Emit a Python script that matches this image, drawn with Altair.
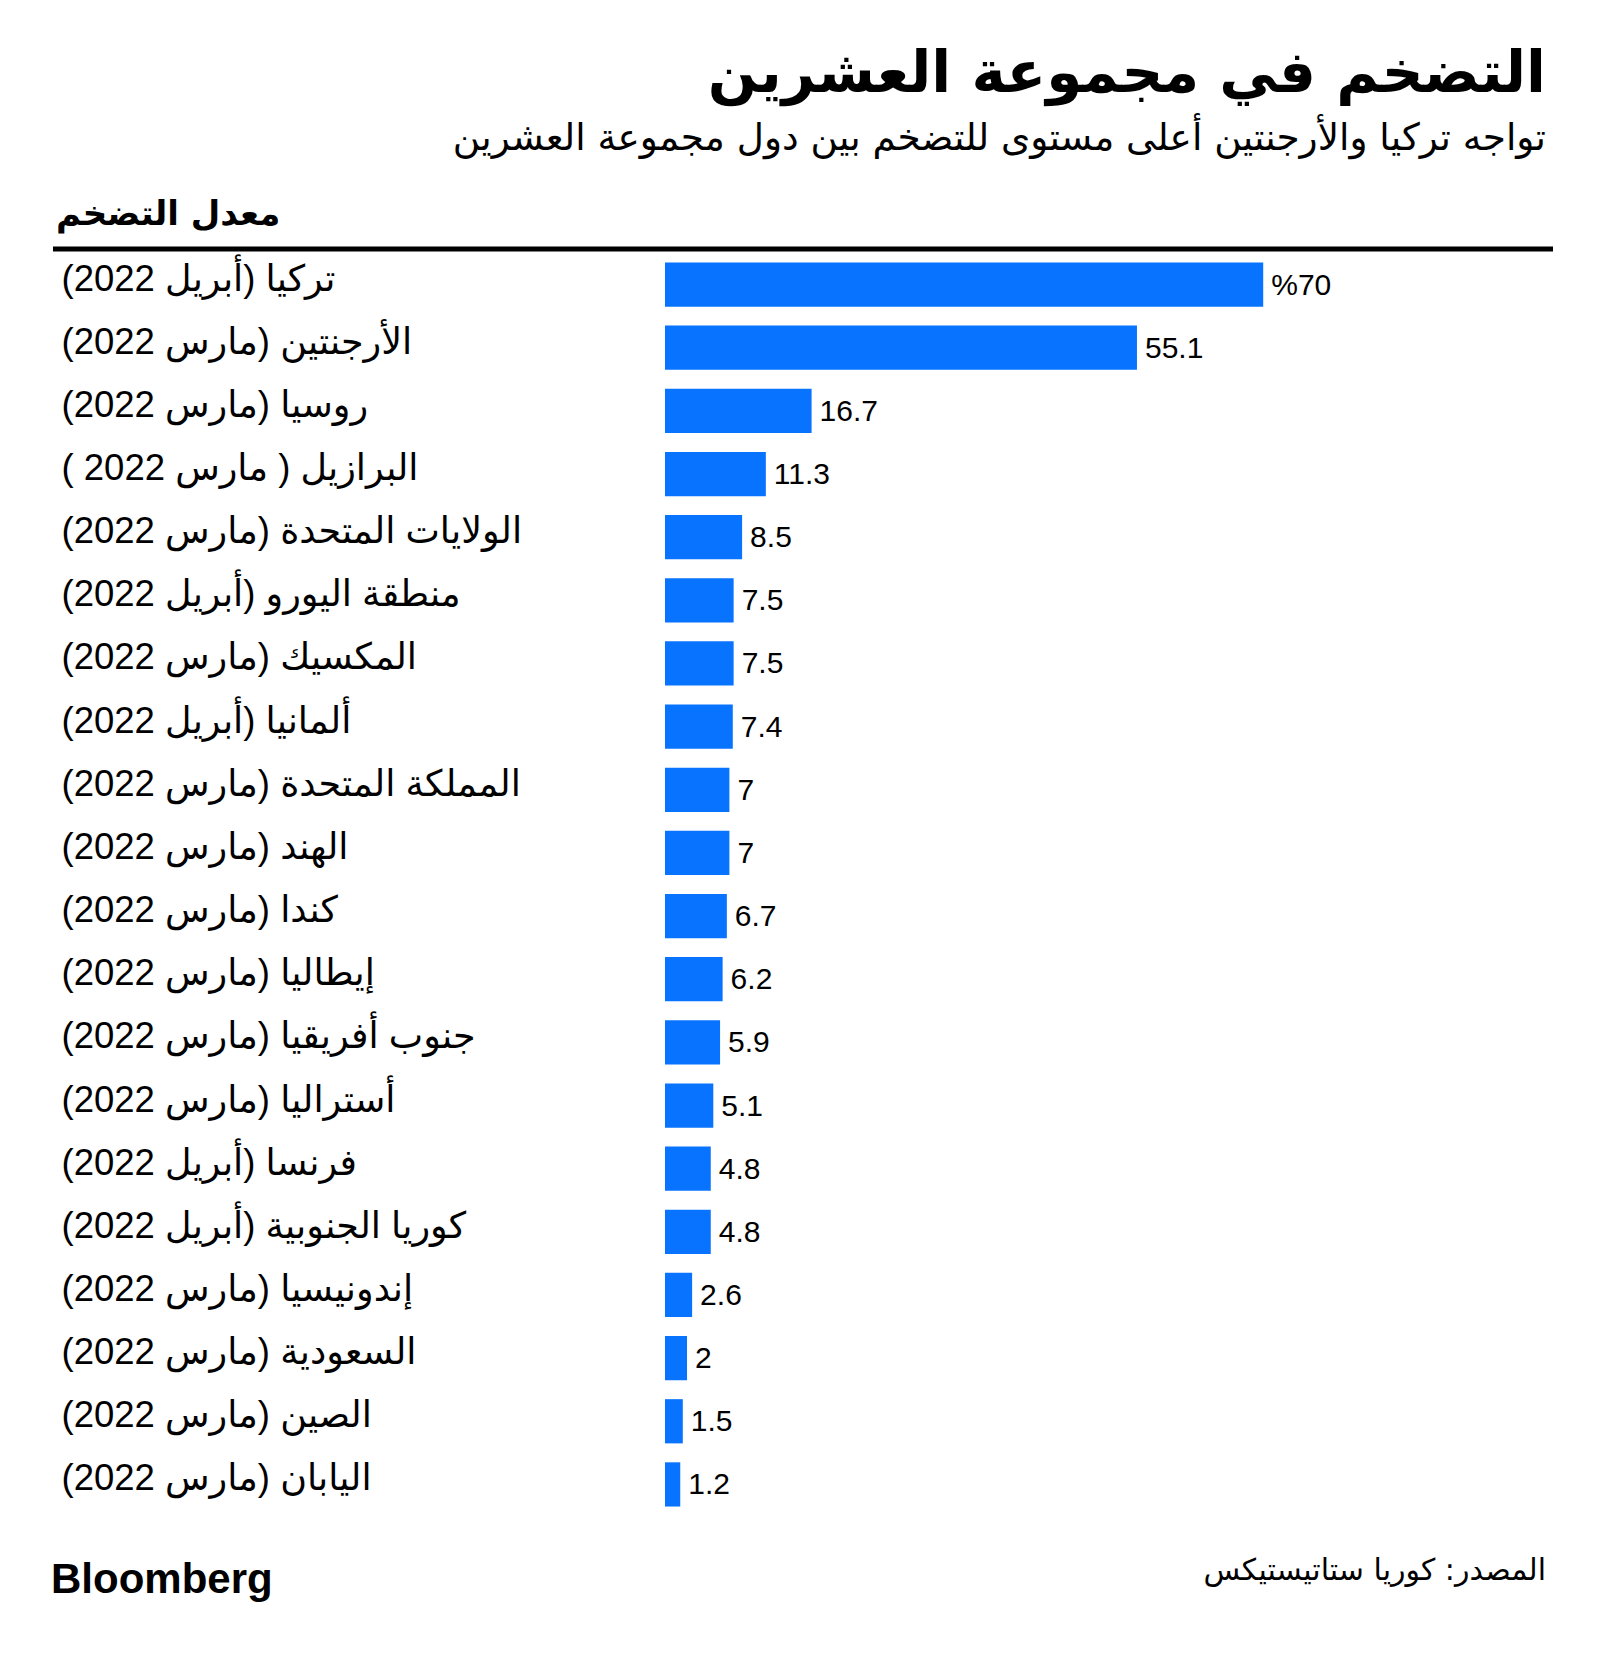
import altair as alt
import pandas as pd

countries = [
    "تركيا (أبريل 2022)",
    "الأرجنتين (مارس 2022)",
    "روسيا (مارس 2022)",
    "البرازيل ( مارس 2022 )",
    "الولايات المتحدة (مارس 2022)",
    "منطقة اليورو (أبريل 2022)",
    "المكسيك (مارس 2022)",
    "ألمانيا (أبريل 2022)",
    "المملكة المتحدة (مارس 2022)",
    "الهند (مارس 2022)",
    "كندا (مارس 2022)",
    "إيطاليا (مارس 2022)",
    "جنوب أفريقيا (مارس 2022)",
    "أستراليا (مارس 2022)",
    "فرنسا  (أبريل 2022)",
    "كوريا الجنوبية (أبريل 2022)",
    "إندونيسيا  (مارس 2022)",
    "السعودية  (مارس 2022)",
    "الصين  (مارس 2022)",
    "اليابان  (مارس 2022)",
]
values = [70, 55.1, 16.7, 11.3, 8.5, 7.5, 7.5, 7.4, 7, 7, 6.7, 6.2, 5.9, 5.1, 4.8, 4.8, 2.6, 2, 1.5, 1.2]
value_labels = ["%70", "55.1", "16.7", "11.3", "8.5", "7.5", "7.5", "7.4", "7", "7",
                "6.7", "6.2", "5.9", "5.1", "4.8", "4.8", "2.6", "2", "1.5", "1.2"]

title_text = "التضخم في مجموعة العشرين"
subtitle_text = "تواجه تركيا والأرجنتين أعلى مستوى للتضخم  بين دول مجموعة العشرين"
header_text = "معدل التضخم"
source_text = "المصدر: كوريا ستاتيستيكس"
brand_text = "Bloomberg"

df = pd.DataFrame({"country": countries, "value": values, "label": value_labels})
one = pd.DataFrame({"k": [0]})

# layout (pixels)
OX, OY = 665, 253
W, H = 888, 1263
BLUE = "#0773ff"
LATIN = "Liberation Sans, Arial, DejaVu Sans"
ARABIC = "DejaVu Sans"
XMIN, XMAX = -0.6, 104.2

xscale = alt.Scale(domain=[XMIN, XMAX], nice=False, zero=False)
yscale = alt.Scale(paddingInner=0.3, paddingOuter=0.15)

bars = alt.Chart(df).mark_bar(color=BLUE).encode(
    x=alt.X("value:Q", scale=xscale, axis=None),
    x2=alt.datum(XMIN),
    y=alt.Y("country:N", sort=countries, scale=yscale,
            axis=alt.Axis(title=None, ticks=False, domain=False, grid=False,
                          labelAlign="left", labelPadding=OX - 61,
                          labelFont=LATIN, labelFontSize=36.5, labelColor="#000000",
                          labelLimit=1000, labelOffset=-5, labelBaseline="middle")),
)

vlabels = alt.Chart(df).mark_text(align="left", baseline="middle", dx=8, dy=1,
                                  font=LATIN, fontSize=30, color="#000000").encode(
    x=alt.X("value:Q", scale=xscale),
    y=alt.Y("country:N", sort=countries, scale=yscale),
    text="label:N",
)

def note(text, x, y, align, size, weight="normal", font=ARABIC):
    return alt.Chart(one).mark_text(text=text, align=align, baseline="alphabetic",
                                    font=font, fontSize=size, fontWeight=weight,
                                    color="#000000").encode(
        x=alt.value(x - OX), y=alt.value(y - OY))

title = note(title_text, 1546, 92, "right", 58, "bold")
subtitle = note(subtitle_text, 1546, 150, "right", 37.4)
header = note(header_text, 56, 225, "left", 34, "bold")
source = note(source_text, 1546, 1580, "right", 30)
brand = note(brand_text, 51, 1593, "left", 42, "bold", LATIN)

rule = alt.Chart(one).mark_rule(color="#000000", strokeWidth=5).encode(
    x=alt.value(53 - OX), x2=alt.value(1553 - OX), y=alt.value(249 - OY))

chart = alt.layer(bars, vlabels, rule, title, subtitle, header, source, brand).properties(
    width=W, height=H,
    padding={"left": OX, "top": OY, "right": 1600 - OX - W, "bottom": 1659 - OY - H},
    autosize=alt.AutoSizeParams(type="none"),
    background="#ffffff",
).configure_view(stroke=None)

chart.save("out.html", embed_options={"renderer": "svg", "actions": False})
